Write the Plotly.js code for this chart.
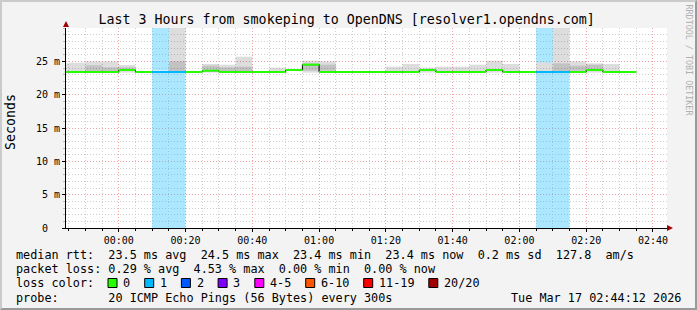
<!DOCTYPE html>
<html><head><meta charset="utf-8">
<script src="https://cdn.plot.ly/plotly-3.0.1.min.js"></script>
<style>
html,body{margin:0;padding:0;background:#f3f3f3;}
#wrap{position:relative;width:697px;height:310px;overflow:hidden;}
#chart{width:697px;height:310px;}
#frame{position:absolute;left:0;top:0;width:697px;height:310px;box-sizing:border-box;border-top:2px solid #cbcbcb;border-left:2px solid #cbcbcb;border-right:2px solid #9a9a9a;border-bottom:2px solid #9a9a9a;pointer-events:none;}
</style></head><body>
<div id="wrap"><div id="chart"></div><div id="frame"></div></div>
<script>
// ---- data (5-minute steps) ----
const stepStart = ['23:40','23:45','23:50','23:55','00:00','00:05','00:10','00:15','00:20','00:25','00:30','00:35','00:40','00:45','00:50','00:55','01:00','01:05','01:10','01:15','01:20','01:25','01:30','01:35','01:40','01:45','01:50','01:55','02:00','02:05','02:10','02:15','02:20','02:25','02:30'];
const medianMs  = [23.4,23.4,23.4,23.4,23.7,23.4,23.4,23.4,23.4,23.6,23.4,23.4,23.4,23.4,23.7,24.5,23.4,23.4,23.4,23.4,23.4,23.4,23.7,23.4,23.4,23.4,23.7,23.4,23.4,23.4,23.4,23.4,23.7,23.4,23.4];
const lossPings = [0,0,0,0,0,0,1,1,0,0,0,0,0,0,0,0,0,0,0,0,0,0,0,0,0,0,0,0,0,1,1,0,0,0,0];
const smokeTopMs = [24.7,24.8,25.0,25.0,24.45,null,null,35,null,24.6,24.5,25.7,null,24.05,null,25.1,25.0,null,null,null,24.2,24.6,24.05,24.2,24.2,24.5,25.1,24.6,null,24.8,35,25.0,24.7,24.6,null];
const smokeCoreLowMs  = [null,null,23.5,23.5,23.6,null,null,23.5,null,23.6,23.5,23.5,null,null,null,23.6,23.6,null,null,null,null,null,null,null,null,null,null,null,null,null,23.5,23.6,23.6,null,null];
const smokeCoreHighMs = [null,null,24.4,24.1,24.1,null,null,25.0,null,24.35,24.1,24.2,null,null,null,24.7,24.5,null,null,null,null,null,null,null,null,null,null,null,null,null,24.7,24.35,24.5,null,null];
const smokeFloorMs = 23.3;
const yTickVals = [0,5,10,15,20,25];
const yTickText = ['0\u00a0\u00a0','5\u00a0m','10\u00a0m','15\u00a0m','20\u00a0m','25\u00a0m'];
const rttStats  = ['23.5 ms avg','24.5 ms max','23.4 ms min','23.4 ms now','0.2 ms sd','127.8 \u00a0am/s'];
const lossStats = ['0.29 % avg','4.53 % max','0.00 % min','0.00 % now'];
const lossLabels = ['0','1','2','3','4-5','6-10','11-19','20/20'];
const lossColors = ['#26ff00','#00b8ff','#0059ff','#7e00ff','#ff00ff','#ff5500','#ff0000','#a10000'];
const probeText = '20 ICMP Echo Pings (56 Bytes) every 300s';
const stampText = 'Tue Mar 17 02:44:12 2026';
const titleText = 'Last 3 Hours from smokeping to OpenDNS [resolver1.opendns.com]';

// ---- helpers ----
const T0 = Date.UTC(2026,2,17,0,0,0);
const STEP = 300000;
const yMax = 30;
function toMs(s){const p=s.split(':').map(Number);let m=p[0]*60+p[1];if(p[0]>=12)m-=1440;return T0+m*60000;}
const starts = stepStart.map(toMs);
const centers = starts.map(s=>s+STEP/2);
const L=66, T=28, W=601, H=200;
const px = x => (x-L)/W;
const py = y => (T+H-y)/H;
const mono = 'DejaVu Sans Mono, monospace';
const nb = s => s.replace(/ /g,'\u00a0');

const traces = [];
// loss background (below and above the smoke)
const lx=[], lb=[], ly=[], ux=[], ub=[], uy=[];
lossPings.forEach((l,i)=>{ if(l>0){
  lx.push(centers[i]); lb.push(0); ly.push(smokeFloorMs);
  const b = smokeTopMs[i]!=null ? smokeTopMs[i] : medianMs[i]+0.2;
  if(b<yMax){ux.push(centers[i]); ub.push(b); uy.push(yMax-b);}
}});
const lossFill='rgba(0,184,255,0.33)';
traces.push({type:'bar',x:lx,base:lb,y:ly,width:STEP,marker:{color:lossFill,line:{width:0}},hoverinfo:'skip',showlegend:false});
traces.push({type:'bar',x:ux,base:ub,y:uy,width:STEP,marker:{color:lossFill,line:{width:0}},hoverinfo:'skip',showlegend:false});
// smoke
const sx=[], sb=[], sy=[], cx=[], cb=[], cy=[];
smokeTopMs.forEach((t,i)=>{
  if(t!=null){sx.push(centers[i]); sb.push(smokeFloorMs); sy.push(t-smokeFloorMs);}
  if(smokeCoreLowMs[i]!=null){cx.push(centers[i]); cb.push(smokeCoreLowMs[i]); cy.push(smokeCoreHighMs[i]-smokeCoreLowMs[i]);}
});
traces.push({type:'bar',x:sx,base:sb,y:sy,width:STEP,marker:{color:'rgba(0,0,0,0.135)',line:{width:0}},hoverinfo:'skip',showlegend:false});
traces.push({type:'bar',x:cx,base:cb,y:cy,width:STEP,marker:{color:'rgba(0,0,0,0.12)',line:{width:0}},hoverinfo:'skip',showlegend:false});
// black median step outline
traces.push({type:'scatter',mode:'lines',x:starts.concat([starts[starts.length-1]+STEP]),y:medianMs.concat([medianMs[medianMs.length-1]]),line:{shape:'hv',color:'#000',width:1},hoverinfo:'skip',showlegend:false});
// coloured median segments per loss
[0,1].forEach(lv=>{
  const xs=[], ys=[];
  medianMs.forEach((m,i)=>{ if(lossPings[i]===lv){xs.push(starts[i],starts[i]+STEP,null); ys.push(m,m,null);} });
  traces.push({type:'scatter',mode:'lines',x:xs,y:ys,connectgaps:false,line:{color:lossColors[lv],width:2},hoverinfo:'skip',showlegend:false});
});

// ---- annotations ----
const ann = [];
function txt(t,x,y,opt){ann.push(Object.assign({text:nb(t),xref:'paper',yref:'paper',x:px(x),y:py(y),xanchor:'left',yanchor:'middle',showarrow:false,borderpad:0,borderwidth:0,font:{family:mono,size:11.8,color:'#000'}},opt||{}));}
txt('median rtt:  '+rttStats.join('  '),16,254.5);
txt('packet loss: '+lossStats.join('  '),16,268.5);
txt('loss color:',16,283);
txt('probe:       '+probeText,16,297.5);
txt(stampText,681,297.5,{xanchor:'right'});
txt('Seconds',10.5,122.5,{xanchor:'center',textangle:-90,font:{family:mono,size:13.3,color:'#000'}});
txt('RRDTOOL / TOBI OETIKER',688.5,60,{xanchor:'center',textangle:90,font:{family:mono,size:8.4,color:'#b0b0b0'}});

const shapes = [];
let bx = 108;
lossLabels.forEach((lab,i)=>{
  shapes.push({type:'rect',xref:'paper',yref:'paper',x0:px(bx),x1:px(bx+9),y0:py(287.5),y1:py(278.5),fillcolor:lossColors[i],line:{color:'#000',width:1}});
  const lxp = bx+15.4;
  txt(lab,lxp,283);
  bx = lxp + lab.length*7.1 + 14.2;
});
// axis arrows
shapes.push({type:'path',xref:'paper',yref:'paper',path:`M ${px(63)},${py(27)} L ${px(69)},${py(27)} L ${px(66)},${py(21)} Z`,fillcolor:'#a00000',line:{width:0}});
shapes.push({type:'path',xref:'paper',yref:'paper',path:`M ${px(667)},${py(225)} L ${px(667)},${py(231)} L ${px(673)},${py(228)} Z`,fillcolor:'#a00000',line:{width:0}});

const gridDash='1px,2px';
const layout = {
  width:697,height:310,
  margin:{l:L,r:697-L-W,t:T,b:310-T-H,pad:0},
  paper_bgcolor:'#f3f3f3',plot_bgcolor:'#ffffff',
  barmode:'overlay',
  showlegend:false,
  title:{text:titleText,font:{family:mono,size:13.3,color:'#000'},xref:'container',x:346.7/697,xanchor:'center',yref:'container',y:1-19/310,yanchor:'middle'},
  xaxis:{type:'date',range:['2026-03-16 23:44:12','2026-03-17 02:44:12'],tick0:'2026-03-17 00:00:00',dtick:1200000,tickformat:'%H:%M',
    showgrid:true,gridcolor:'#f3a3a3',griddash:gridDash,gridwidth:1,
    minor:{dtick:300000,tick0:'2026-03-17 00:00:00',showgrid:true,gridcolor:'#cfcfcf',griddash:gridDash,ticks:'outside',ticklen:2,tickcolor:'#000'},
    ticks:'outside',ticklen:3,tickcolor:'#000',showline:true,linecolor:'#000',linewidth:1,zeroline:false,
    tickfont:{family:mono,size:10,color:'#000'},fixedrange:true},
  yaxis:{range:[0,yMax],tickmode:'array',tickvals:yTickVals,ticktext:yTickText,
    showgrid:true,gridcolor:'#f3a3a3',griddash:gridDash,gridwidth:1,
    minor:{tickmode:'linear',dtick:1,tick0:0,showgrid:true,gridcolor:'#cfcfcf',griddash:gridDash,ticks:'outside',ticklen:2,tickcolor:'#bbb'},
    ticks:'outside',ticklen:3,tickcolor:'#000',showline:true,linecolor:'#000',linewidth:1,zeroline:false,
    tickfont:{family:mono,size:10,color:'#000'},fixedrange:true},
  annotations:ann,
  shapes:shapes
};
Plotly.newPlot('chart',traces,layout,{staticPlot:true,displayModeBar:false});
</script>
</body></html>
